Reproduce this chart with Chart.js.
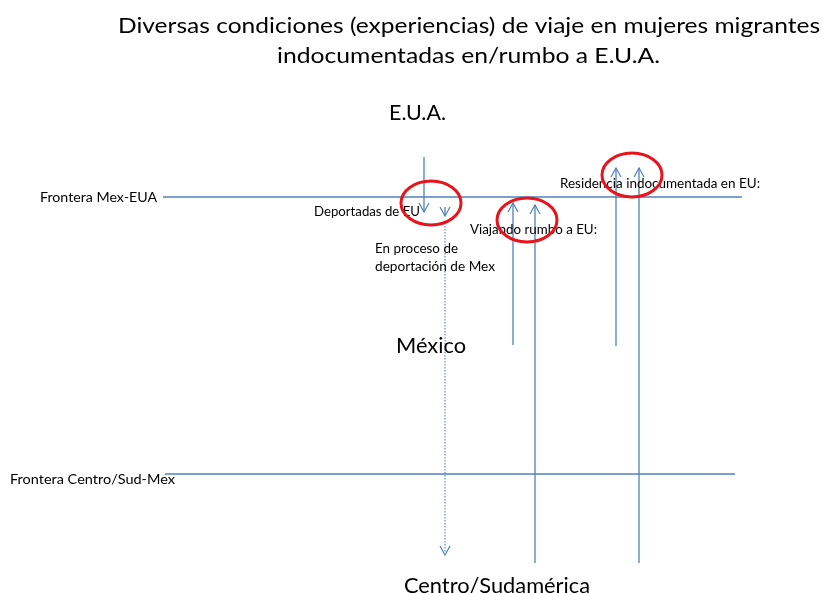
<!DOCTYPE html>
<html><head><meta charset="utf-8">
<script src="https://cdn.jsdelivr.net/npm/chart.js@4"></script>
<style>html,body{margin:0;padding:0;background:#fff}#wrap{width:823px;height:593px;position:relative}</style>
</head><body><div id="wrap"><canvas id="c"></canvas></div>
<script>
// ---- Diagram data (diagram units: 0..823 across, 0..593 downward) ----
const titleLines = ["Diversas condiciones (experiencias) de viaje en mujeres migrantes", "indocumentadas en/rumbo a E.U.A."];
const borderNames = ["Frontera Mex-EUA", "Frontera Centro/Sud-Mex"];
const borderLevel = [197, 474];
const borderStart = [163, 165];
const borderEnd = [742, 735];
const regionNames = ["E.U.A.", "México", "Centro/Sudamérica"];
const groupNames = ["Deportadas de EU", "En proceso de", "deportación de Mex", "Viajando rumbo a EU:", "Residencia indocumentada en EU:"];

const arrowX    = [424, 445, 445, 513, 535, 616, 639];
const arrowFrom = [157, 207, 223, 345, 563, 346, 563];
const arrowTo   = [212, 216, 555, 203, 205, 168, 168];
const arrowDotted = [false, false, true, false, false, false, false];

const highlightX = [431, 527, 632];
const highlightY = [203, 220, 175];

// ---- Styles / layout ----
const BLUE = '#4F81BD';
const DOT_BLUE = '#7FA3D3';
const FONT = 'Lato, "Open Sans", "DejaVu Sans", sans-serif';
const HEAD_DX = 5, HEAD_DY = 9;
const ELL_RX = 30, ELL_RY = 22;

// text placements: [text, left, right, middleY, fontSize]
const textLayout = [
  [titleLines[0], 118, 820, 26, 21],
  [titleLines[1], 277, 660, 56, 21],
  [regionNames[0], 389, 446, 113, 20.5],
  [regionNames[1], 396, 466, 346, 20.5],
  [regionNames[2], 404, 590, 586, 20.5],
  [borderNames[0], 40, 157, 198, 13.5],
  [borderNames[1], 10, 175, 479, 14],
  [groupNames[0], 314, 420, 212, 13.5],
  [groupNames[1], 375, 458, 249, 13.5],
  [groupNames[2], 375, 495, 267, 13.5],
  [groupNames[3], 470, 597, 230, 13.5],
  [groupNames[4], 560, 760, 184, 13.5]
];

const datasets = [];
borderLevel.forEach((y, i) => {
  datasets.push({label: borderNames[i], data: [{x: borderStart[i], y}, {x: borderEnd[i], y}],
    showLine: true, borderColor: BLUE, borderWidth: 1.5, pointRadius: 0});
});
arrowX.forEach((x, i) => {
  const from = arrowFrom[i], to = arrowTo[i];
  const dir = to > from ? 1 : -1;
  datasets.push({data: [{x, y: from}, {x, y: to}], showLine: true,
    borderColor: arrowDotted[i] ? DOT_BLUE : BLUE, borderWidth: arrowDotted[i] ? 1.5 : 1.3,
    borderDash: arrowDotted[i] ? [1.5, 1.5] : [], pointRadius: 0});
  datasets.push({data: [{x: x - HEAD_DX, y: to - dir * HEAD_DY}, {x, y: to}, {x: x + HEAD_DX, y: to - dir * HEAD_DY}],
    showLine: true, borderColor: BLUE, borderWidth: 1.2, pointRadius: 0});
});

const overlay = {
  id: 'overlay',
  afterDatasetsDraw(chart) {
    const ctx = chart.ctx, sx = chart.scales.x, sy = chart.scales.y;
    ctx.save();
    ctx.fillStyle = '#000';
    ctx.textBaseline = 'middle';
    ctx.textAlign = 'left';
    textLayout.forEach(([t, l, r, y, fs]) => {
      ctx.font = fs + 'px ' + FONT;
      const px0 = sx.getPixelForValue(l), px1 = sx.getPixelForValue(r);
      const w = ctx.measureText(t).width;
      const k = (px1 - px0) / w;
      ctx.save();
      ctx.translate(px0, sy.getPixelForValue(y));
      ctx.scale(k, 1);
      ctx.fillText(t, 0, 0);
      ctx.restore();
    });
    ctx.strokeStyle = '#E8141B';
    ctx.lineWidth = 3;
    highlightX.forEach((x, i) => {
      ctx.beginPath();
      ctx.ellipse(sx.getPixelForValue(x), sy.getPixelForValue(highlightY[i]), ELL_RX, ELL_RY, 0, 0, Math.PI * 2);
      ctx.stroke();
    });
    ctx.restore();
  }
};

new Chart(document.getElementById('c'), {
  type: 'scatter',
  data: {datasets},
  options: {
    responsive: true, maintainAspectRatio: false, animation: false,
    layout: {padding: 0},
    elements: {line: {tension: 0}},
    plugins: {legend: {display: false}, tooltip: {enabled: false}, title: {display: false}},
    scales: {
      x: {type: 'linear', min: 0, max: 823, display: false},
      y: {type: 'linear', min: 0, max: 593, reverse: true, display: false}
    }
  },
  plugins: [overlay]
});
</script></body></html>
